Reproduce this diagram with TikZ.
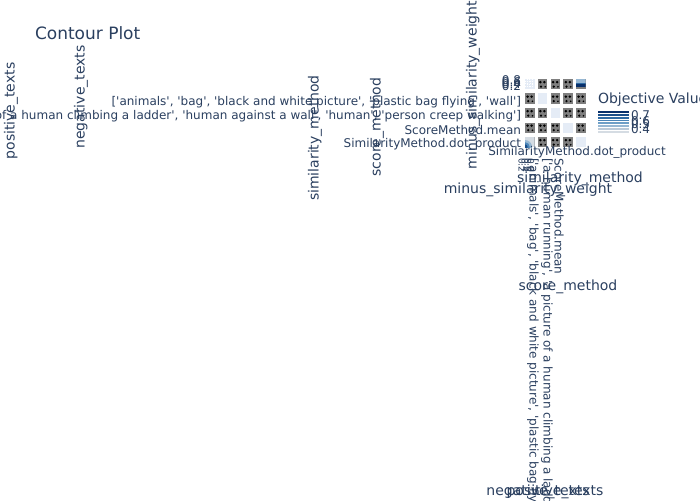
\documentclass[tikz,border=0pt]{standalone}
\usepackage{fontspec}
\setmainfont{DejaVu Sans}
\newcommand\sq{\textquotesingle}
\definecolor{pl}{HTML}{2A3F5F}
\definecolor{bgc}{HTML}{E5ECF6}
\definecolor{grc}{HTML}{7F7F7F}
\definecolor{cbA}{HTML}{08306B}
\definecolor{cbB}{HTML}{1B4F8A}
\definecolor{cbC}{HTML}{2E6AA3}
\definecolor{cbD}{HTML}{4A85B8}
\definecolor{cbE}{HTML}{6E9FC7}
\definecolor{cbF}{HTML}{97B8D4}
\definecolor{cbG}{HTML}{BAC9D8}
\definecolor{cbH}{HTML}{D5DCE3}
\begin{document}
\begin{tikzpicture}[x=1pt,y=-1pt,
  every node/.style={inner sep=0pt,outer sep=0pt,text=pl},
  tck/.style={font=\fontsize{12}{12}\selectfont},
  ttl/.style={font=\fontsize{14}{14}\selectfont},
  rup/.style={rotate=90},
  rdn/.style={rotate=-90,anchor=west},
  dot/.style={fill=black},
  graycell/.style={fill=grc},
  diagcell/.style={fill=bgc}]
\useasboundingbox (0,0) rectangle (700,500);
\clip (0,0) rectangle (700,500);
% title
\node[font=\fontsize{17}{17}\selectfont,anchor=west] (title) at (35,33) {Contour Plot};
% y-axis titles
\node[ttl,rup] (ytA) at (11,111) {positive\_texts};
\node[ttl,rup] (ytB) at (81,97) {negative\_texts};
\node[ttl,rup] (ytC) at (315,138) {similarity\_method};
\node[ttl,rup] (ytD) at (377,127) {score\_method};
\node[ttl,rup] (ytE) at (473,85) {minus\_similarity\_weight};
% y tick labels
\node[tck,anchor=east] (yk1) at (521,80) {0.8};
\node[tck,anchor=east] (yk2) at (521,82) {0.6};
\node[tck,anchor=east] (yk3) at (521,84) {0.4};
\node[tck,anchor=east] (yk4) at (521,86) {0.2};
\node[tck,anchor=east] (ykB) at (521,102) {[\sq animals\sq, \sq bag\sq, \sq black and white picture\sq, \sq plastic bag flying\sq, \sq wall\sq]};
\node[tck,anchor=east] (ykC) at (521,116.5) {[\sq a human running\sq, \sq a picture of a human climbing a ladder\sq, \sq human against a wall\sq, \sq human\sq, \sq person creep walking\sq]};
\node[tck,anchor=east] (ykD) at (521,130) {ScoreMethod.mean};
\node[tck,anchor=east] (ykE) at (521,144) {SimilarityMethod.dot\_product};
% grid of cells
\foreach \r/\yt in {1/79,2/93.5,3/108,4/122.5,5/137}{
  \foreach \c/\xl in {1/525,2/537.75,3/550.5,4/563.25,5/576}{
    \ifnum\r=\c
      \fill[diagcell] (\xl,\yt) rectangle ++(9.5,10);
    \else
      \fill[graycell] (\xl,\yt) rectangle ++(9.5,10);
      \fill[dot] (\xl+2.6,\yt+3.2) circle (1.4);
      \fill[dot] (\xl+6.6,\yt+3.2) circle (1.4);
      \fill[dot] (\xl+3.2,\yt+7.6) circle (1.2);
      \fill[dot] (\xl+7.4,\yt+7.8) circle (0.9);
    \fi
  }
}
% top-left cell gridlines
\foreach \k in {2,4.5,7}{
  \draw[white,line width=0.4pt,dotted] (525,79+\k) -- (534.5,79+\k);
  \draw[white,line width=0.4pt,dotted] (525+\k,79) -- (525+\k,89);
}
% top-right cell contour
\begin{scope}
\clip (576,79) rectangle (585.5,89);
\fill[cbF] (576,79) rectangle (585.5,83);
\fill[cbC] (576,83) rectangle (585.5,84.5);
\fill[cbA] (576,84.5) rectangle (585.5,87.5);
\fill[grc] (576,87.5) rectangle (585.5,89);
\end{scope}
% bottom-left cell contour
\begin{scope}
\clip (525,137) rectangle (534.5,147);
\fill[cbH] (525,137) rectangle (534.5,147);
\fill[cbF] (525,147) circle (7);
\fill[cbD] (525,147) circle (4.8);
\fill[cbB] (525,147) circle (2.6);
\end{scope}
% x tick labels
\foreach \k/\xx in {1/522,2/525,3/528,4/531}{
  \node[tck,rdn,font=\fontsize{9}{9}\selectfont] (xk\k) at (\xx,158) {0.\the\numexpr2*\k\relax};
}
\node[tck,rdn] (xkB) at (533,158) {[\sq animals\sq, \sq bag\sq, \sq black and white picture\sq, \sq plastic bag flying\sq, \sq wall\sq]};
\node[tck,rdn] (xkC) at (547,158) {[\sq a human running\sq, \sq a picture of a human climbing a ladder\sq, \sq human against a wall\sq, \sq human\sq, \sq person creep walking\sq]};
\node[tck,rdn] (xkD) at (559,158) {ScoreMethod.mean};
\node[tck] (xkE) at (577,152) {SimilarityMethod.dot\_product};
% x-axis titles
\node[ttl] (xtA) at (528,190) {minus\_similarity\_weight};
\node[ttl] (xtB) at (580,179) {similarity\_method};
\node[ttl] (xtC) at (568,287) {score\_method};
\node[ttl] (xtD) at (538,492) {negative\_texts};
\node[ttl] (xtE) at (555,492) {positive\_texts};
% colorbar
\node[ttl,anchor=west] (cbt) at (598,100) {Objective Value};
\foreach \i/\cc in {0/cbA,1/cbB,2/cbC,3/cbD,4/cbE,5/cbF,6/cbG,7/cbH}{
  \fill[\cc] (598,110+\i*2.9) rectangle (629,110+\i*2.9+2.9);
  \draw[white,line width=0.4pt] (598,110+\i*2.9) -- (629,110+\i*2.9);
}
\node[tck,anchor=west] (cb7) at (631,115) {0.7};
\node[tck,anchor=west] (cb6) at (631,121) {0.6};
\node[tck,anchor=west] (cb5) at (631,124) {0.5};
\node[tck,anchor=west] (cb4) at (631,129) {0.4};
\end{tikzpicture}
\end{document}
